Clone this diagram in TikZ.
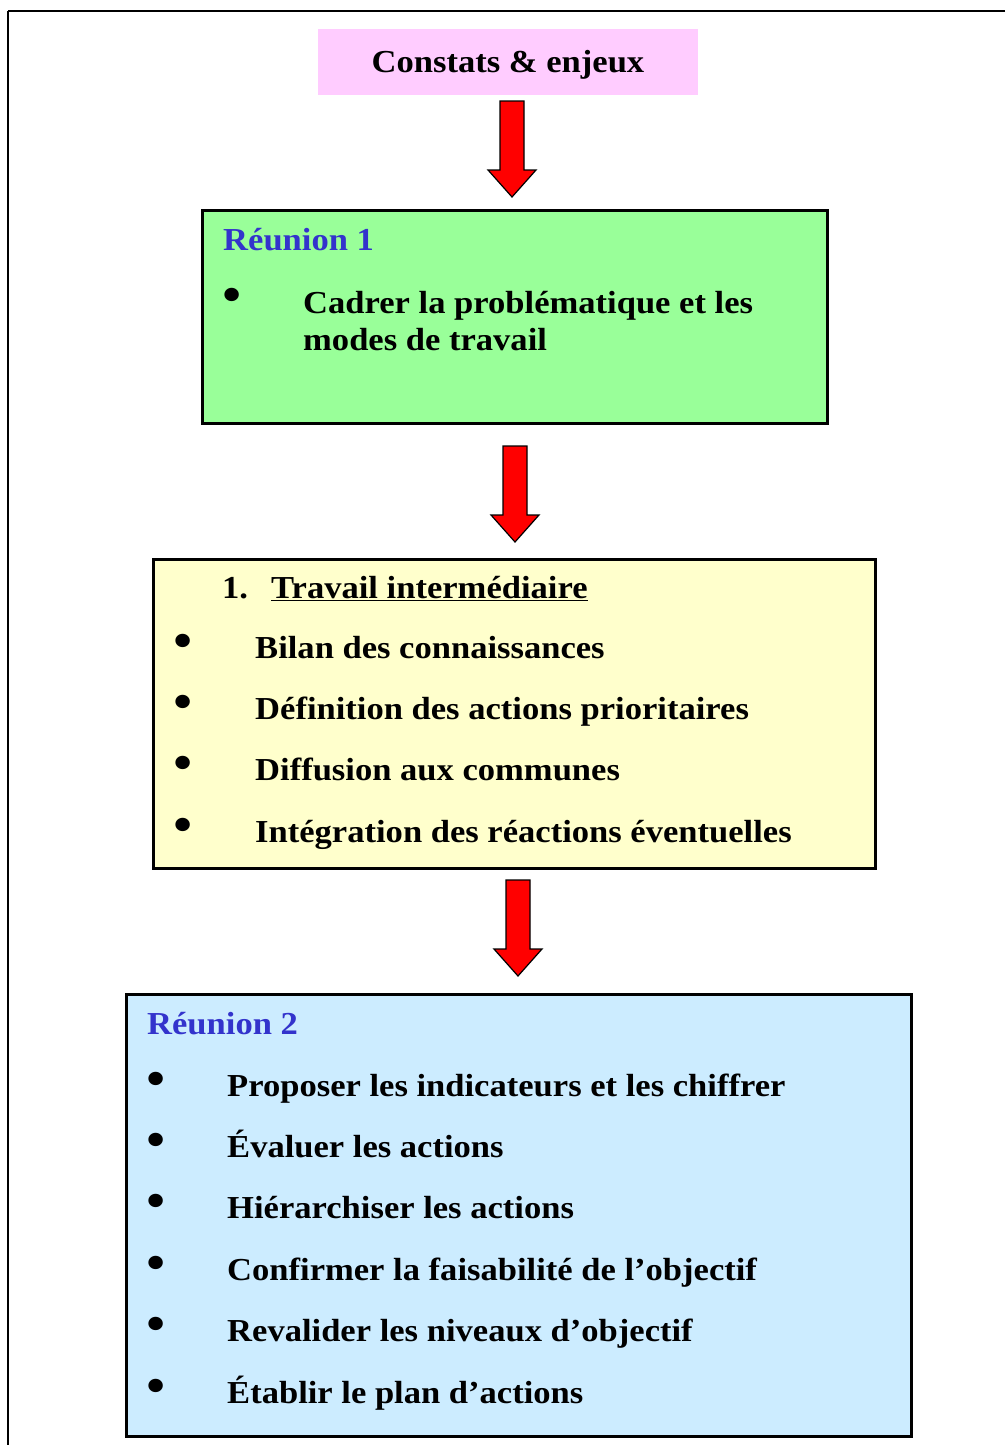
\documentclass[tikz,border=0pt]{standalone}
\usepackage{fontspec}
\setmainfont{Liberation Serif}[FakeStretch=1.08]
\usetikzlibrary{calc}

\definecolor{pinkfill}{HTML}{FFCCFF}
\definecolor{greenfill}{HTML}{99FF99}
\definecolor{yellowfill}{HTML}{FFFFCC}
\definecolor{bluefill}{HTML}{CCECFF}
\definecolor{titleblue}{HTML}{3333CC}

\tikzset{
  box/.style={draw=black, line width=3pt, anchor=north west, inner sep=0pt},
  txt/.style={anchor=base west, inner sep=0pt, font=\fontsize{32}{37}\selectfont\bfseries},
  title/.style={txt, text=titleblue},
  bul/.style={anchor=base, inner sep=0pt, font=\fontsize{56}{58}\selectfont},
  blockarrow/.style={draw=black, line width=1.2pt, fill=red, line join=miter},
}

% block arrow pointing down, from #1 (top centre) to #2 (tip)
\newcommand\downarrowshape[2]{%
  \draw[blockarrow] ($(#1)+(-12,0)$) -- ($(#1)+(12,0)$) -- ($(#2)+(12,-27)$)
    -- ($(#2)+(24,-27)$) -- (#2) -- ($(#2)+(-24,-27)$) -- ($(#2)+(-12,-27)$) -- cycle;}

\begin{document}
\begin{tikzpicture}[x=1pt, y=-1pt]
  \useasboundingbox (0,0) rectangle (1005,1445);

  % page frame (top and left edges)
  \draw[line width=2.5pt] (1005,11) -- (8,11);
  \draw[line width=1.8pt] (8,11) -- (8,1445);

  % boxes
  \node[anchor=north west, fill=pinkfill, minimum width=380pt, minimum height=66pt, inner sep=0pt] (top) at (318,29) {};
  \node[box, fill=greenfill,  minimum width=625pt, minimum height=213pt] (r1) at (201,209) {};
  \node[box, fill=yellowfill, minimum width=722pt, minimum height=309pt] (mid) at (152,558) {};
  \node[box, fill=bluefill,   minimum width=785pt, minimum height=442pt] (r2) at (125,993) {};

  % arrows
  \coordinate (a1s) at (512,101); \coordinate (a1e) at (512,197);
  \coordinate (a2s) at (515,446); \coordinate (a2e) at (515,542);
  \coordinate (a3s) at (518,880); \coordinate (a3e) at (518,976);
  \downarrowshape{a1s}{a1e}
  \downarrowshape{a2s}{a2e}
  \downarrowshape{a3s}{a3e}

  % heading
  \node[txt, anchor=base] (ttop) at (508,72) {Constats \& enjeux};

  % Réunion 1
  \node[title] (t1) at (223,250) {Réunion 1};
  \node[bul] (b1) at (232,313) {•};
  \node[txt] (l1) at (303,313) {Cadrer la problématique et les};
  \node[txt] (l1b) at (303,350) {modes de travail};

  % Travail intermédiaire
  \node[txt] (n1) at (222,598) {1.};
  \node[txt] (tm) at (271,598) {\underline{Travail intermédiaire}};
  \foreach \y/\t [count=\i] in {658/Bilan des connaissances,
                                719/Définition des actions prioritaires,
                                780/Diffusion aux communes,
                                842/Intégration des réactions éventuelles}{
    \node[bul] (mb\i) at (183.5,\y+1) {•};
    \node[txt] (ml\i) at (255,\y) {\t};
  }

  % Réunion 2
  \node[title] (t2) at (147,1034) {Réunion 2};
  \foreach \y/\t [count=\i] in {1096/Proposer les indicateurs et les chiffrer,
                                1157/Évaluer les actions,
                                1218/Hiérarchiser les actions,
                                1280/Confirmer la faisabilité de l’objectif,
                                1341/Revalider les niveaux d’objectif,
                                1403/Établir le plan d’actions}{
    \node[bul] (rb\i) at (156.5,\y+1) {•};
    \node[txt] (rl\i) at (227,\y) {\t};
  }
\end{tikzpicture}
\end{document}
